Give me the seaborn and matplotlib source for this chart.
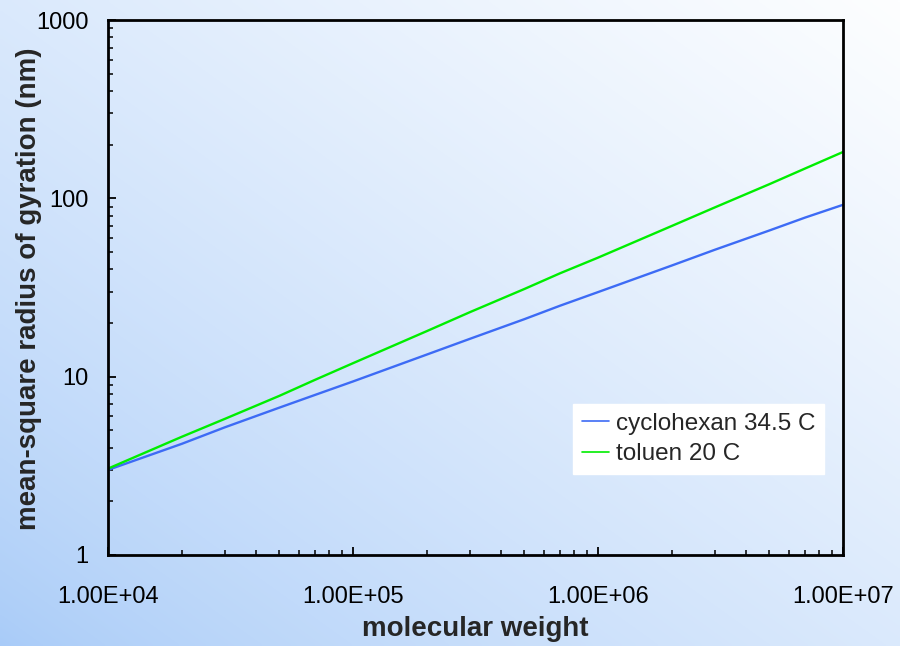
import numpy as np
import pandas as pd
import matplotlib
matplotlib.use("Agg")
import matplotlib.pyplot as plt
import seaborn as sns
from matplotlib.ticker import FixedLocator, FuncFormatter, LogLocator, NullFormatter

# Data
molecular_weight = [1e4, 2e4, 3e4, 5e4, 7e4, 1e5, 2e5, 3e5, 5e5, 7e5,
                    1e6, 2e6, 3e6, 5e6, 7e6, 1e7]
cyclohexan = [3.0, 4.2, 5.2, 6.7, 7.9, 9.4, 13.3, 16.3, 21.0, 25.0,
              29.8, 42.0, 51.5, 66.0, 78.0, 92.0]
toluen = [3.05, 4.6, 5.8, 7.8, 9.6, 11.9, 18.0, 23.0, 31.0, 38.0,
          46.5, 70.0, 89.0, 120.0, 147.0, 182.0]
series_names = ["cyclohexan 34.5 C", "toluen 20 C"]
x_ticks = [1e4, 1e5, 1e6, 1e7]
y_ticks = [1, 10, 100, 1000]

df = pd.concat([
    pd.DataFrame({"M": molecular_weight, "R": cyclohexan, "series": series_names[0]}),
    pd.DataFrame({"M": molecular_weight, "R": toluen, "series": series_names[1]}),
])

sns.set_theme(style="white")
plt.rcParams["font.family"] = ["Liberation Sans", "DejaVu Sans"]

fig = plt.figure(figsize=(9, 6.46), dpi=100)

# gradient background
bg = fig.add_axes([0, 0, 1, 1], zorder=-10)
h, w = 200, 280
yy, xx = np.mgrid[0:h, 0:w]
t = (xx / (w - 1) + (1 - yy / (h - 1))) / 2.0
t = t ** 0.75
c0 = np.array([168, 203, 248]) / 255.0
c1 = np.array([253, 254, 255]) / 255.0
img = c0[None, None, :] * (1 - t[..., None]) + c1[None, None, :] * t[..., None]
bg.imshow(img, aspect="auto", extent=[0, 1, 0, 1], interpolation="bilinear")
bg.set_axis_off()

ax = fig.add_axes([0.12, 0.1409, 0.8167, 0.8281])
ax.set_facecolor("none")

sns.lineplot(data=df, x="M", y="R", hue="series",
             palette=["#3d6bf5", "#00ee00"], linewidth=1.7, ax=ax)

ax.set_xscale("log")
ax.set_yscale("log")
ax.set_xlim(1e4, 1e7)
ax.set_ylim(1, 1000)

ax.xaxis.set_major_locator(FixedLocator(x_ticks))
ax.yaxis.set_major_locator(FixedLocator(y_ticks))
ax.xaxis.set_minor_locator(LogLocator(base=10, subs=np.arange(2, 10)))
ax.yaxis.set_minor_locator(LogLocator(base=10, subs=np.arange(2, 10)))
ax.xaxis.set_minor_formatter(NullFormatter())
ax.yaxis.set_minor_formatter(NullFormatter())
ax.xaxis.set_major_formatter(FuncFormatter(lambda v, p: "%.2E" % v))
ax.yaxis.set_major_formatter(FuncFormatter(lambda v, p: "%d" % v))

ax.tick_params(axis="both", which="major", direction="in", length=5.5, width=1.3,
               color="black", labelsize=17, labelcolor="black")
ax.tick_params(axis="both", which="minor", direction="in", length=3.5, width=1.1,
               color="black")
ax.tick_params(axis="x", which="major", pad=22)
ax.tick_params(axis="y", which="major", pad=14)
ax.tick_params(which="both", bottom=True, left=True, top=False, right=False)

for s in ax.spines.values():
    s.set_color("black")
    s.set_linewidth(2.0)
    s.set_visible(True)

ax.set_xlabel("molecular weight", fontsize=20, fontweight="bold", labelpad=6)
ax.set_ylabel("mean-square radius of gyration (nm)", fontsize=20,
              fontweight="bold")
ax.yaxis.set_label_coords(-0.09, 0.497)

leg = ax.legend(loc="upper left", bbox_to_anchor=(0.633, 0.282), frameon=True,
                fontsize=17.5, handlelength=1.1, handletextpad=0.3,
                borderpad=0.35, labelspacing=0.35, fancybox=False,
                borderaxespad=0)
leg.get_frame().set_facecolor("white")
leg.get_frame().set_edgecolor("white")
leg.get_frame().set_alpha(1)
for line in leg.get_lines():
    line.set_linewidth(1.2)

fig.savefig("out.png", dpi=100)
